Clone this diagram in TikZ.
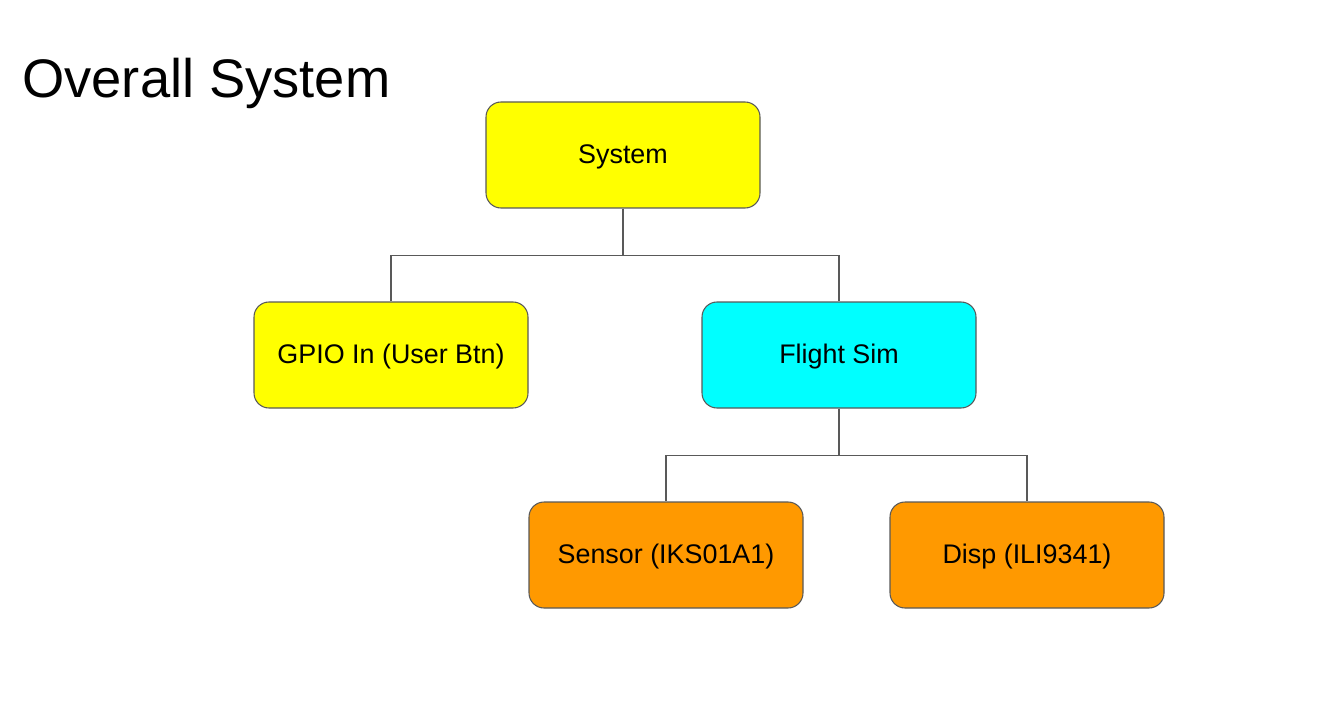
\documentclass[tikz,border=0pt]{standalone}
\usepackage{fontspec}
\setmainfont{Liberation Sans}
\usepackage{tikz}

\definecolor{boxline}{HTML}{595959}
\definecolor{sysyellow}{HTML}{FFFF00}
\definecolor{simcyan}{HTML}{00FFFF}
\definecolor{hworange}{HTML}{FF9900}

\begin{document}
\begin{tikzpicture}[auto,
    block/.style ={rectangle, rounded corners=0.3cm, draw=boxline, line width=0.6pt,
                   minimum width=5.48cm, minimum height=2.12cm,
                   text height=1.16em, text depth=0.2em,
                   font=\fontsize{15.3pt}{18pt}\selectfont},
    link/.style ={draw=boxline, line width=0.6pt}]
   \useasboundingbox (0,0) rectangle (26.48,-14.5);
   \node[anchor=base west, inner sep=0pt, font=\fontsize{30.9pt}{36pt}\selectfont] (title) at (0.44,-1.96) {Overall System};
   \node[block, fill=sysyellow] (system) at (12.46,-3.10) {System};
   \node[block, fill=sysyellow] (gpio) at (7.82,-7.10) {GPIO In (User Btn)};
   \node[block, fill=simcyan] (flight) at (16.78,-7.10) {Flight Sim};
   \node[block, fill=hworange] (sensor) at (13.32,-11.10) {Sensor (IKS01A1)};
   \node[block, fill=hworange] (disp) at (20.54,-11.10) {Disp (ILI9341)};
   \draw[link] (system.south) -- ++(0,-0.94) -| (gpio.north);
   \draw[link] (system.south) -- ++(0,-0.94) -| (flight.north);
   \draw[link] (flight.south) -- ++(0,-0.94) -| (sensor.north);
   \draw[link] (flight.south) -- ++(0,-0.94) -| (disp.north);
\end{tikzpicture}
\end{document}
